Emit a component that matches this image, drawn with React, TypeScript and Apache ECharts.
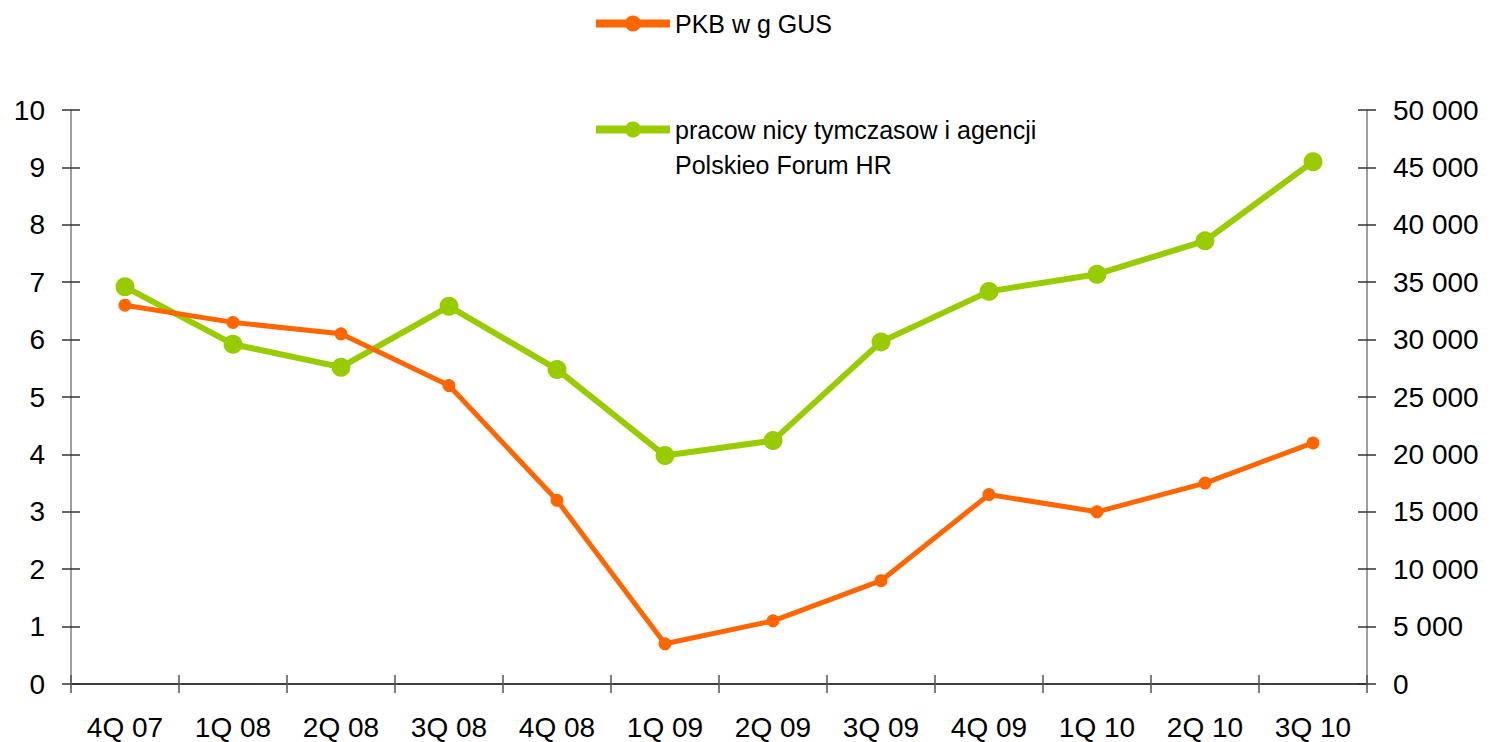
import React, { useEffect, useRef } from "react";
import * as echarts from "echarts";

const categories = ["4Q 07", "1Q 08", "2Q 08", "3Q 08", "4Q 08", "1Q 09", "2Q 09", "3Q 09", "4Q 09", "1Q 10", "2Q 10", "3Q 10"];
const pkbName = "PKB w g GUS";
const pkbValues = [6.6, 6.3, 6.1, 5.2, 3.2, 0.7, 1.1, 1.8, 3.3, 3.0, 3.5, 4.2];
const workersName = "pracow nicy tymczasow i agencji\nPolskieo Forum HR";
const workersValues = [34600, 29600, 27600, 32900, 27400, 19900, 21200, 29800, 34200, 35700, 38600, 45500];

const FONT = "'Liberation Sans', Arial, sans-serif";
const ORANGE = "#FF6600";
const GREEN = "#99CC00";

function fmtThousands(v: number) {
  return String(v).replace(/\B(?=(\d{3})+(?!\d))/g, " ");
}

export default function App() {
  const ref = useRef<HTMLDivElement>(null);
  useEffect(() => {
    if (!ref.current) return;
    const chart = echarts.init(ref.current, null, { renderer: "svg" });
    const grid = { left: 71, right: 126, top: 110, bottom: 58 };
    const labelStyle = { color: "#000", fontSize: 28, fontFamily: FONT };
    chart.setOption({
      animation: false,
      backgroundColor: "#fff",
      textStyle: { fontFamily: FONT },
      legend: [
        {
          data: [pkbName],
          left: 587,
          top: 6,
          itemWidth: 74,
          itemHeight: 20,
          itemGap: 0,
          textStyle: { color: "#000", fontSize: 25, fontFamily: FONT },
          lineStyle: { width: 8 },
        },
        {
          data: [workersName],
          left: 587,
          top: 72,
          itemWidth: 74,
          itemHeight: 20,
          formatter: (name: string) => " \n" + name,
          textStyle: { color: "#000", fontSize: 25, fontFamily: FONT, lineHeight: 35 },
          lineStyle: { width: 8 },
        },
      ],
      grid,
      xAxis: [
        {
          type: "category",
          data: categories,
          boundaryGap: true,
          axisLine: { lineStyle: { color: "#000", width: 1.5 } },
          axisTick: { show: true, length: 9, inside: false, lineStyle: { color: "#555", width: 1.5 } },
          axisLabel: { ...labelStyle, margin: 29, interval: 0 },
          splitLine: { show: false },
        },
        {
          type: "category",
          data: categories,
          position: "bottom",
          boundaryGap: true,
          axisLine: { show: false },
          axisTick: { show: true, length: 9, inside: true, lineStyle: { color: "#555", width: 1.5 } },
          axisLabel: { show: false },
          splitLine: { show: false },
        },
      ],
      yAxis: [
        {
          type: "value",
          min: 0,
          max: 10,
          interval: 1,
          position: "left",
          axisLine: { show: true, lineStyle: { color: "#808080", width: 1.5 } },
          axisTick: { show: true, length: 9, lineStyle: { color: "#333", width: 1.5 } },
          axisLabel: { ...labelStyle, margin: 26 },
          splitLine: { show: false },
        },
        {
          type: "value",
          min: 0,
          max: 50000,
          interval: 5000,
          position: "right",
          axisLine: { show: true, lineStyle: { color: "#808080", width: 1.5 } },
          axisTick: { show: true, length: 9, lineStyle: { color: "#333", width: 1.5 } },
          axisLabel: { ...labelStyle, margin: 26, formatter: (v: number) => fmtThousands(v) },
          splitLine: { show: false },
        },
        {
          type: "value",
          min: 0,
          max: 10,
          interval: 1,
          position: "left",
          axisLine: { show: false },
          axisTick: { show: true, inside: true, length: 9, lineStyle: { color: "#333", width: 1.5 } },
          axisLabel: { show: false },
          splitLine: { show: false },
        },
        {
          type: "value",
          min: 0,
          max: 50000,
          interval: 5000,
          position: "right",
          axisLine: { show: false },
          axisTick: { show: true, inside: true, length: 9, lineStyle: { color: "#333", width: 1.5 } },
          axisLabel: { show: false },
          splitLine: { show: false },
        },
      ],
      series: [
        {
          name: pkbName,
          type: "line",
          xAxisIndex: 0,
          yAxisIndex: 0,
          data: pkbValues,
          color: ORANGE,
          lineStyle: { color: ORANGE, width: 5 },
          itemStyle: { color: ORANGE },
          symbol: "circle",
          symbolSize: 13,
          z: 3,
        },
        {
          name: workersName,
          type: "line",
          xAxisIndex: 0,
          yAxisIndex: 1,
          data: workersValues,
          color: GREEN,
          lineStyle: { color: GREEN, width: 6 },
          itemStyle: { color: GREEN },
          symbol: "circle",
          symbolSize: 19,
          z: 2,
        },
      ],
    });
    return () => chart.dispose();
  }, []);
  return <div ref={ref} style={{ position: "fixed", left: 0, top: 0, width: 1493, height: 742 }} />;
}
